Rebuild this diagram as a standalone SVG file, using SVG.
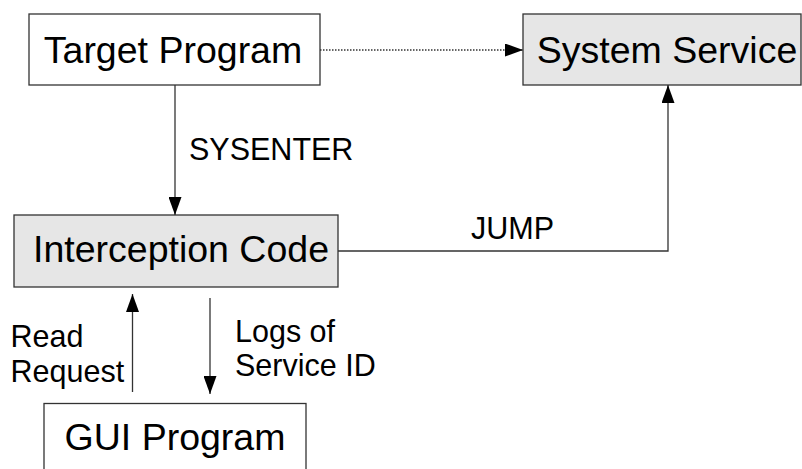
<svg xmlns="http://www.w3.org/2000/svg" width="802" height="469" viewBox="0 0 802 469">
  <style>
    .box { stroke: #333; stroke-width: 1.3; }
    .plain { fill: #ffffff; }
    .shaded { fill: #e6e6e6; }
    .title { font-family: "Liberation Sans", Arial, sans-serif; font-size: 37.5px; fill: #000; text-anchor: middle; }
    .label { font-family: "Liberation Sans", Arial, sans-serif; font-size: 30.5px; fill: #000; }
    .wire { fill: none; stroke: #333; stroke-width: 1.3; }
    .dotted { stroke-dasharray: 1.5 1.5; }
  </style>
  <defs>
    <marker id="arrow" markerUnits="userSpaceOnUse" markerWidth="18" markerHeight="13" refX="18" refY="6.5" orient="auto">
      <path d="M0,0 L18,6.5 L0,13 Z" fill="#000"/>
    </marker>
  </defs>
  <rect width="802" height="469" fill="#ffffff"/>

  <g id="target-program">
    <rect class="box plain" x="29" y="14" width="291" height="71"/>
    <text class="title" x="173" y="63">Target Program</text>
  </g>

  <g id="system-service">
    <rect class="box shaded" x="523" y="14" width="278" height="71"/>
    <text class="title" x="667" y="63">System Service</text>
  </g>

  <g id="interception-code">
    <rect class="box shaded" x="14" y="215" width="324" height="72"/>
    <text class="title" x="181" y="262">Interception Code</text>
  </g>

  <g id="gui-program">
    <rect class="box plain" x="44" y="403.5" width="262" height="80"/>
    <text class="title" x="175" y="450">GUI Program</text>
  </g>

  <g id="connectors">
    <line class="wire dotted" x1="320" y1="50" x2="523" y2="50" marker-end="url(#arrow)"/>
    <line class="wire" x1="175" y1="85" x2="175" y2="215" marker-end="url(#arrow)"/>
    <polyline class="wire" points="338,251 668,251 668,85" marker-end="url(#arrow)"/>
    <line class="wire" x1="132.5" y1="392" x2="132.5" y2="294" marker-end="url(#arrow)"/>
    <line class="wire" x1="210" y1="298" x2="210" y2="394" marker-end="url(#arrow)"/>
    <text class="label" x="189" y="159.5">SYSENTER</text>
    <text class="label" x="471" y="238.5">JUMP</text>
    <text class="label" x="10.5" y="347">Read</text>
    <text class="label" x="10.5" y="382">Request</text>
    <text class="label" x="235" y="342">Logs of</text>
    <text class="label" x="235" y="376">Service ID</text>
  </g>
</svg>
